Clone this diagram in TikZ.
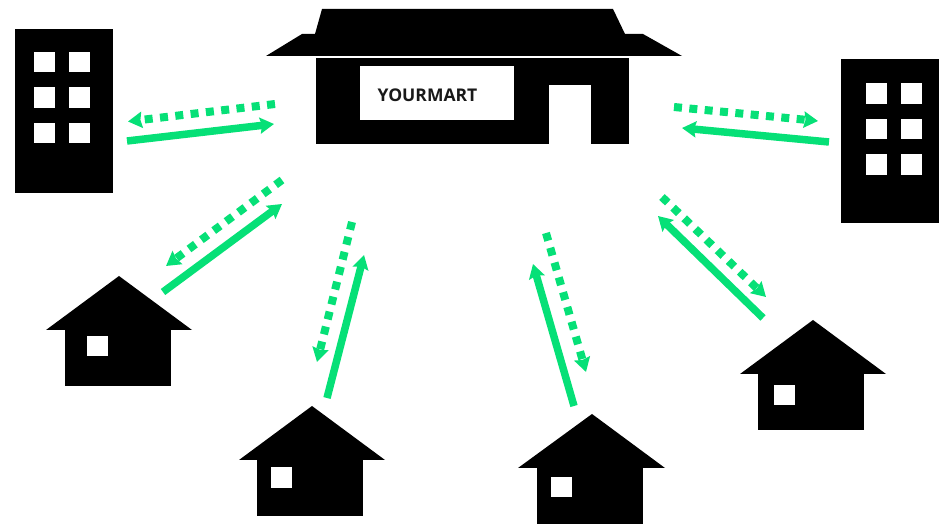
\documentclass[tikz,border=0pt]{standalone}
\usepackage{fontspec}
\setmainfont{Open Sans}
\usetikzlibrary{arrows.meta,positioning}
\definecolor{linkgreen}{HTML}{06E077}

\begin{document}
\begin{tikzpicture}[
    x=1pt, y=-1pt,
    block/.style={fill=black, inner sep=0pt},
    win/.style={fill=white, inner sep=0pt, minimum width=21pt, minimum height=20.5pt},
    sign/.style={fill=white, inner sep=0pt, minimum width=154pt, minimum height=54pt},
    doorway/.style={fill=white, inner sep=0pt, minimum width=42pt, minimum height=59pt},
    body/.style={block, minimum width=106pt, minimum height=56pt},
    tower/.style={block, minimum width=98pt, minimum height=164pt},
    order/.style={-{Stealth[length=14pt, width=16pt, inset=2pt]}, line width=7.5pt, draw=linkgreen},
    supply/.style={-{Stealth[length=14pt, width=16pt, inset=1.5pt]}, line width=8pt, draw=linkgreen, dash pattern=on 8pt off 7.4pt}
]
\useasboundingbox (0,0) rectangle (951,526);

% ===== MART =====
\fill (322,9) -- (613,9) -- (625,34) -- (643,34) -- (682,56) -- (266,56) -- (302,34) -- (315,34) -- cycle;
\node[block, minimum width=313pt, minimum height=86pt] (mart) at (472.5,101) {};
\node[sign] (martsign) at (437,93) {};
\node[doorway, anchor=south] (martdoor) at (570,144) {};
\node[font=\bfseries\fontsize{17.5}{17.5}\selectfont, text=black!90] (martname) at (427.5,95) {YOURMART};

% ===== TOWERS =====
\node[tower] (towerL) at (64,111) {};
\node[win] (wL1) at (44.5,62) {};
\node[win, right=14pt of wL1] (wL2) {};
\node[win, below=14.5pt of wL1] (wL3) {};
\node[win, right=14pt of wL3] (wL4) {};
\node[win, below=14.5pt of wL3] (wL5) {};
\node[win, right=14pt of wL5] (wL6) {};

\node[tower] (towerR) at (890,141.5) {};
\node[win] (wR1) at (876,93.5) {};
\node[win, right=14pt of wR1] (wR2) {};
\node[win, below=14.5pt of wR1] (wR3) {};
\node[win, right=14pt of wR3] (wR4) {};
\node[win, below=14.5pt of wR3] (wR5) {};
\node[win, right=14pt of wR5] (wR6) {};

% ===== HOUSES =====
\fill (119,276) -- (192,330) -- (46,330) -- cycle;
\node[body] (houseA) at (118,358) {};
\node[win] (wA) at (97,346) {};

\fill (312,406) -- (385,460) -- (239,460) -- cycle;
\node[body] (houseB) at (310,488) {};
\node[win] (wB) at (281.5,477.5) {};

\fill (592,414) -- (665,468) -- (518,468) -- cycle;
\node[body] (houseC) at (590,496) {};
\node[win] (wC) at (561.5,487) {};

\fill (813,320) -- (886,374) -- (740,374) -- cycle;
\node[body] (houseD) at (811,402) {};
\node[win] (wD) at (784,395) {};

% ===== LINK ENDS =====
\coordinate (dAs) at (275,104);
\coordinate (dAe) at (128,121.5);
\coordinate (sAs) at (127,141);
\coordinate (sAe) at (274,124);
\coordinate (dBs) at (282,180);
\coordinate (dBe) at (166,266);
\coordinate (sBs) at (163,292);
\coordinate (sBe) at (282,204);
\coordinate (dCs) at (352,222);
\coordinate (dCe) at (317,362);
\coordinate (sCs) at (327,398);
\coordinate (sCe) at (364,255);
\coordinate (dDs) at (546,233);
\coordinate (dDe) at (586,372);
\coordinate (sDs) at (574,406);
\coordinate (sDe) at (533,264);
\coordinate (dEs) at (662,197);
\coordinate (dEe) at (766,297);
\coordinate (sEs) at (763,318);
\coordinate (sEe) at (658,216);
\coordinate (dFs) at (674,107);
\coordinate (dFe) at (818,121);
\coordinate (sFs) at (829,142);
\coordinate (sFe) at (682,128);

% ===== LINKS =====
\draw[supply] (dAs) -- (dAe);
\draw[order] (sAs) -- (sAe);
\draw[supply] (dBs) -- (dBe);
\draw[order] (sBs) -- (sBe);
\draw[supply] (dCs) -- (dCe);
\draw[order] (sCs) -- (sCe);
\draw[supply] (dDs) -- (dDe);
\draw[order] (sDs) -- (sDe);
\draw[supply] (dEs) -- (dEe);
\draw[order] (sEs) -- (sEe);
\draw[supply] (dFs) -- (dFe);
\draw[order] (sFs) -- (sFe);

\end{tikzpicture}
\end{document}
